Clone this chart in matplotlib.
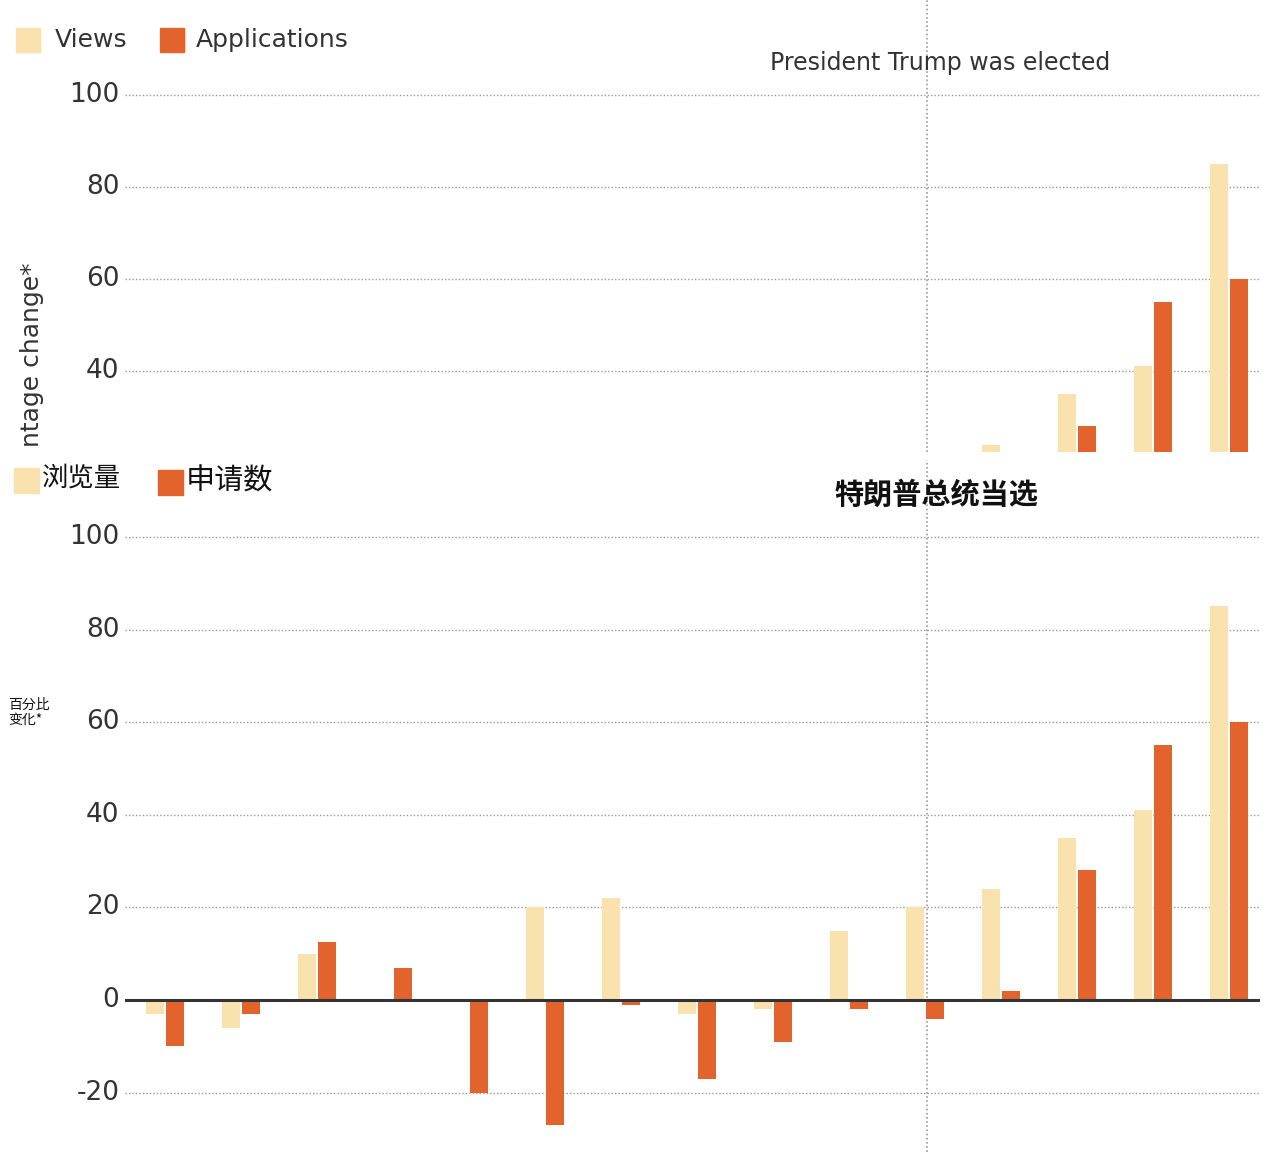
import matplotlib.pyplot as plt
from matplotlib import font_manager
from matplotlib.patches import Rectangle
import numpy as np

cjk = [f.name for f in font_manager.fontManager.ttflist if 'CJK' in f.name]
cjk_name = 'Noto Sans CJK SC' if 'Noto Sans CJK SC' in cjk else (cjk[0] if cjk else 'DejaVu Sans')
plt.rcParams['font.family'] = ['DejaVu Sans', cjk_name]

views = [-3, -6, 10, -0.5, 0, 20, 22, -3, -2, 15, 20, 24, 35, 41, 85]
applications = [-10, -3, 12.5, 7, -20, -27, -1, -17, -9, -2, -4, 2, 28, 55, 60]
yticks = [-20, 0, 20, 40, 60, 80, 100]
c_views = '#f9e2ad'
c_apps = '#e2642c'

W, H = 1280, 1152
fig = plt.figure(figsize=(12.8, 11.52), dpi=100)
x = np.arange(len(views))
bw = 0.23

def xlim_for(l, r):
    # group 0 centre ~165 px, spacing ~76 px
    return ((l - 165) / 76, (r - 165) / 76)

def panel(top_px, bot_px, y_at_top, y_at_bot):
    ax = fig.add_axes([125 / W, 1 - bot_px / H, (1260 - 125) / W, (bot_px - top_px) / H])
    ax.set_xlim(*xlim_for(125, 1260))
    ax.set_ylim(y_at_bot, y_at_top)
    for s in ax.spines.values():
        s.set_visible(False)
    ax.set_xticks([])
    ax.set_yticks([])
    for t in yticks:
        if y_at_bot < t < y_at_top:
            ax.axhline(t, color='#999999', lw=1, ls=(0, (1, 1.5)), zorder=0)
            ax.text(-0.6, t, str(t), ha='right', va='center', fontsize=19,
                    color='#333333', clip_on=False)
    ax.bar(x - 0.13, views, bw, color=c_views, zorder=2)
    ax.bar(x + 0.13, applications, bw, color=c_apps, zorder=2)
    ax.axvline(10.02, color='#999999', lw=1.2, ls=(0, (1, 1.5)), zorder=1)
    return ax

# top (English, cropped) panel
ax1 = panel(0, 452, 120.6, 22.4)
ax1.text(10.2, 107, 'President Trump was elected', ha='center', va='center',
         fontsize=17, color='#333333')
fig.add_artist(Rectangle((16 / W, 1 - 52 / H), 24 / W, 24 / H, color=c_views))
fig.text(55 / W, 1 - 40 / H, 'Views', color='#333333', fontsize=18, va='center')
fig.add_artist(Rectangle((160 / W, 1 - 52 / H), 24 / W, 24 / H, color=c_apps))
fig.text(196 / W, 1 - 40 / H, 'Applications', color='#333333', fontsize=18, va='center')
fig.text(32 / W, 1 - 355 / H, 'ntage change*', rotation=90, fontsize=18,
         color='#333333', ha='center', va='center')

# bottom (Chinese) panel
ax2 = panel(460, 1152, 116.6, -32.8)
ax2.axhline(0, color='#333333', lw=2.2, zorder=3)
ax2.text(10.15, 109, '特朗普总统当选', ha='center', va='center', family=cjk_name,
         fontsize=21, color='#111111', fontweight='bold')
fig.add_artist(Rectangle((14 / W, 1 - 493 / H), 25 / W, 25 / H, color=c_views))
fig.text(42 / W, 1 - 478 / H, '浏览量', color='#111111', fontsize=19, va='center',
         family=cjk_name)
fig.add_artist(Rectangle((158 / W, 1 - 495 / H), 25 / W, 25 / H, color=c_apps))
fig.text(186 / W, 1 - 482 / H, '申请数', color='#111111', fontsize=21, va='center',
         family=cjk_name)
fig.text(8 / W, 1 - 712 / H, '百分比\n变化*', fontsize=10, color='#111111',
         va='center', linespacing=1.1, family=cjk_name)

fig.savefig('out.png', dpi=100, facecolor='white')
